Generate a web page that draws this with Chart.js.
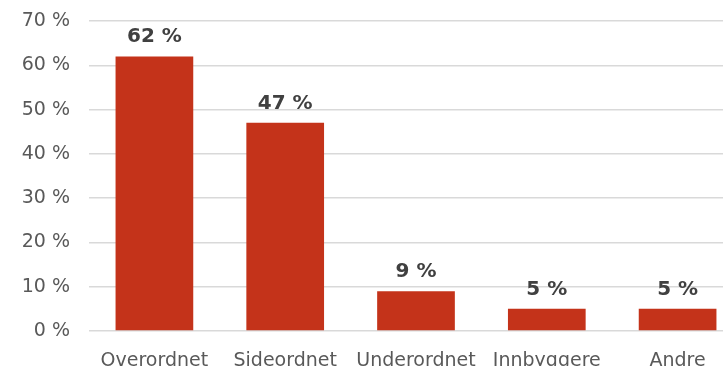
<!DOCTYPE html>
<html>
<head>
<meta charset="utf-8">
<script src="https://cdn.jsdelivr.net/npm/chart.js@4"></script>
<style>
    html, body { margin: 0; padding: 0; background: #fff; overflow: hidden; }
    #wrap { width: 760px; height: 380px; }
</style>
</head>
<body>
<div id="wrap"><canvas id="myChart"></canvas></div>
<script>
// Share of answers per group (percent)
const categories = ['Overordnet', 'Sideordnet', 'Underordnet', 'Innbyggere', 'Andre'];
const shares = [62, 47, 9, 5, 5];
const yTicks = [0, 10, 20, 30, 40, 50, 60, 70];

const barColor = '#C4331A';
const labelColor = '#404040';
const axisTextColor = '#595959';

/** Draws the bold value label above each bar */
const valueLabels = {
    id: 'valueLabels',
    afterDatasetsDraw(chart) {
        const ctx = chart.ctx;
        const meta = chart.getDatasetMeta(0);
        ctx.save();
        ctx.font = 'bold 20px "DejaVu Sans"';
        ctx.fillStyle = labelColor;
        ctx.textAlign = 'center';
        ctx.textBaseline = 'alphabetic';
        meta.data.forEach((bar, i) => {
            ctx.fillText(shares[i] + ' %', bar.x, bar.y - 14);
        });
        ctx.restore();
    }
};

function plotGraph() {
    const ctx = document.getElementById('myChart').getContext('2d');
    new Chart(ctx, {
        type: 'bar',
        data: {
            labels: categories,
            datasets: [{
                data: shares,
                backgroundColor: barColor,
                borderWidth: 0,
                barPercentage: 0.594,
                categoryPercentage: 1.0
            }]
        },
        options: {
            responsive: true,
            maintainAspectRatio: false,
            animation: false,
            layout: { padding: { top: 21, right: 17, left: 0, bottom: 0 } },
            scales: {
                x: {
                    grid: { display: false },
                    border: { display: false },
                    ticks: {
                        color: axisTextColor,
                        padding: 11,
                        font: { family: '"DejaVu Sans"', size: 19 },
                        maxRotation: 0,
                        autoSkip: false
                    },
                    afterFit(scale) {
                        scale.height = 49;
                        scale.paddingLeft = 0;
                        scale.paddingRight = 0;
                    }
                },
                y: {
                    min: 0,
                    max: 70,
                    afterBuildTicks(scale) { scale.ticks = yTicks.map(v => ({ value: v })); },
                    grid: { color: '#d9d9d9', lineWidth: 1.5, drawTicks: false },
                    border: { display: false },
                    ticks: {
                        color: axisTextColor,
                        padding: 19,
                        font: { family: '"DejaVu Sans"', size: 19 },
                        callback: v => v + ' %'
                    },
                    afterFit(scale) {
                        scale.width = 89;
                        scale.paddingTop = 0;
                        scale.paddingBottom = 0;
                    }
                }
            },
            plugins: {
                legend: { display: false },
                tooltip: { enabled: false }
            }
        },
        plugins: [valueLabels]
    });
}

plotGraph();
</script>
</body>
</html>
